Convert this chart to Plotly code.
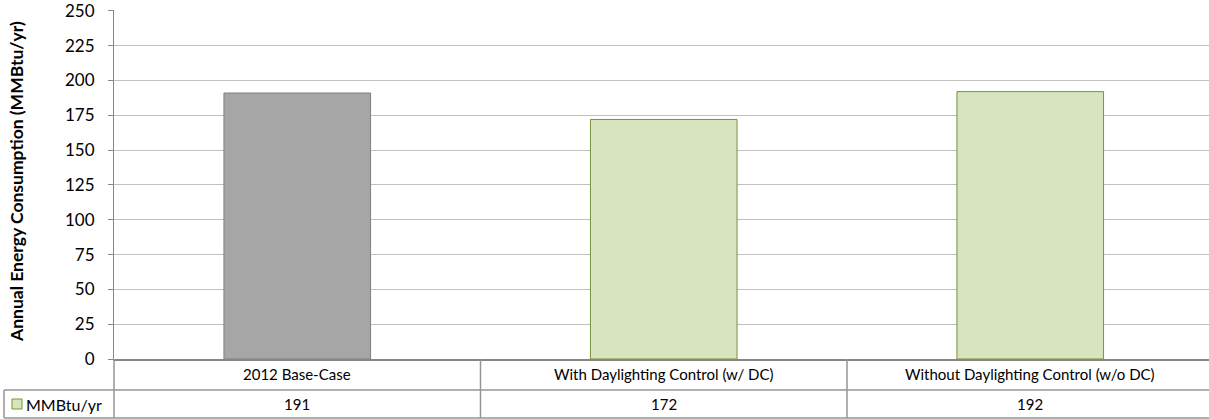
import plotly.graph_objects as go

categories = ["2012 Base-Case", "With Daylighting Control (w/ DC)", "Without Daylighting Control (w/o DC)"]
values = [191, 172, 192]
series_name = "MMBtu/yr"
y_title = "Annual Energy Consumption (MMBtu/yr)"
y_ticks = [0, 25, 50, 75, 100, 125, 150, 175, 200, 225, 250]

fill_colors = ["#A6A6A6", "#D7E4BD", "#D7E4BD"]
line_colors = ["#7F7F7F", "#77933C", "#77933C"]

W, H = 1209, 419
L, R, T, B = 114, 0, 10, 60
pw = W - L - R
ph = H - T - B
cat_px = 366.5
xmin = -0.5
xmax = xmin + pw / cat_px
ymax = 250.6

def px_x(p):
    return (p - L) / pw

def px_y(p):
    return (H - B - p) / ph

def data_x(v):
    return (v - xmin) / (xmax - xmin)

FONT = "Lato, Carlito, Calibri, sans-serif"
TBL = "#969696"

fig = go.Figure()
fig.add_trace(go.Bar(
    x=list(range(len(categories))), y=values, name=series_name, width=0.4,
    marker=dict(color=fill_colors, line=dict(color=line_colors, width=1)),
    showlegend=False, cliponaxis=False,
))

shapes = []
for i in range(len(categories) + 1):
    xb = data_x(i - 0.5)
    if xb > 1:
        continue
    shapes.append(dict(type="line", xref="paper", yref="paper", x0=xb, x1=xb,
                       y0=0, y1=px_y(418), line=dict(color=TBL, width=1.5)))
shapes.append(dict(type="line", xref="paper", yref="paper", x0=px_x(4), x1=1,
                   y0=px_y(390), y1=px_y(390), line=dict(color=TBL, width=1.5)))
shapes.append(dict(type="line", xref="paper", yref="paper", x0=px_x(4), x1=1,
                   y0=px_y(418), y1=px_y(418), line=dict(color=TBL, width=1.5)))
shapes.append(dict(type="line", xref="paper", yref="paper", x0=px_x(4), x1=px_x(4),
                   y0=px_y(390), y1=px_y(418), line=dict(color=TBL, width=1.5)))
shapes.append(dict(type="rect", xref="paper", yref="paper", x0=px_x(12), x1=px_x(22),
                   y0=px_y(409), y1=px_y(399), fillcolor=fill_colors[1],
                   line=dict(color=line_colors[1], width=1)))

annotations = []
for i, c in enumerate(categories):
    annotations.append(dict(x=i, xref="x", y=px_y(374), yref="paper", text=c, showarrow=False,
                            font=dict(family=FONT, size=15, color="#000000"), yanchor="middle"))
    annotations.append(dict(x=i, xref="x", y=px_y(404), yref="paper", text=str(values[i]), showarrow=False,
                            font=dict(family=FONT, size=15, color="#000000"), yanchor="middle"))
annotations.append(dict(x=px_x(24), xref="paper", y=px_y(404), yref="paper", text=series_name,
                        showarrow=False, xanchor="left", yanchor="middle",
                        font=dict(family=FONT, size=16, color="#000000")))
annotations.append(dict(x=px_x(16), xref="paper", y=px_y(182), yref="paper", text="<b>" + y_title + "</b>",
                        showarrow=False, textangle=-90, xanchor="center", yanchor="middle",
                        font=dict(family=FONT, size=17.5, color="#000000")))

fig.update_layout(
    width=W, height=H,
    margin=dict(l=L, r=R, t=T, b=B, pad=0),
    paper_bgcolor="white", plot_bgcolor="white",
    bargap=0.6,
    shapes=shapes, annotations=annotations,
    font=dict(family=FONT),
)
fig.update_xaxes(range=[xmin, xmax], showticklabels=False, showgrid=False, zeroline=False,
                 showline=True, linecolor="#868686", linewidth=1.5, ticks="")
fig.update_yaxes(range=[0, ymax], tickvals=y_ticks, showgrid=True, gridcolor="#C0C0C0", gridwidth=1,
                 zeroline=False, showline=True, linecolor="#868686", linewidth=1,
                 ticks="outside", ticklen=5, tickcolor="#868686", ticklabelstandoff=10,
                 ticklabeloverflow="allow",
                 tickfont=dict(family=FONT, size=17, color="#000000"))

fig.write_html("out.html", post_script="document.body.style.margin='0';",
               config={"displayModeBar": False})
